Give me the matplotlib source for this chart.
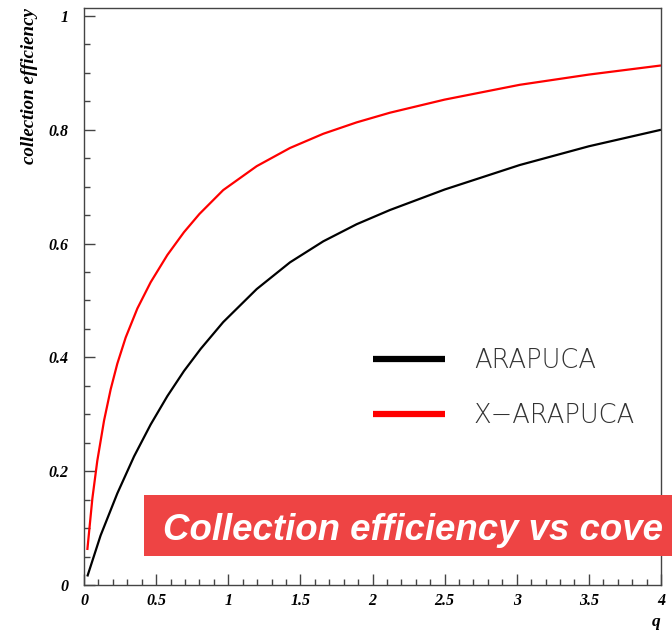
import matplotlib
matplotlib.use("Agg")
import matplotlib.pyplot as plt
from matplotlib.patches import Rectangle
from matplotlib.ticker import MultipleLocator

# ---- data ----
q_arapuca = [0.023, 0.115, 0.231, 0.347, 0.462, 0.578, 0.693, 0.809, 0.965, 1.197,
             1.428, 1.659, 1.890, 2.121, 2.5, 3.02, 3.5, 4.0]
eff_arapuca = [0.015, 0.087, 0.161, 0.226, 0.282, 0.332, 0.376, 0.415, 0.462, 0.520,
               0.567, 0.604, 0.634, 0.659, 0.695, 0.738, 0.771, 0.800]

q_xarapuca = [0.023, 0.058, 0.092, 0.139, 0.185, 0.231, 0.289, 0.370, 0.462, 0.578,
              0.693, 0.80, 0.965, 1.197, 1.428, 1.659, 1.890, 2.121, 2.5, 3.02, 3.5, 4.0]
eff_xarapuca = [0.0615, 0.152, 0.218, 0.289, 0.344, 0.389, 0.435, 0.486, 0.532, 0.580,
                0.620, 0.652, 0.694, 0.736, 0.768, 0.793, 0.813, 0.830, 0.853, 0.879, 0.897, 0.913]

series_labels = ["ARAPUCA", "X\u2212ARAPUCA"]
x_ticks = [0, 0.5, 1, 1.5, 2, 2.5, 3, 3.5, 4]
x_ticklabels = ["0", "0.5", "1", "1.5", "2", "2.5", "3", "3.5", "4"]
y_ticks = [0, 0.2, 0.4, 0.6, 0.8, 1.0]
y_ticklabels = ["0", "0.2", "0.4", "0.6", "0.8", "1"]
x_title = "q"
y_title = "collection efficiency"
banner_text = "Collection efficiency vs cove"

W, H = 672, 630
fig = plt.figure(figsize=(W / 100, H / 100), dpi=100)
ax = fig.add_axes([84 / W, 1 - 585 / H, (661 - 84) / W, (585 - 8) / H])

ax.plot(q_arapuca, eff_arapuca, color="black", lw=1.6, label=series_labels[0],
        solid_capstyle="butt", solid_joinstyle="round")
ax.plot(q_xarapuca, eff_xarapuca, color="#ff0000", lw=1.6, label=series_labels[1],
        solid_capstyle="butt", solid_joinstyle="round")

ax.set_xlim(0, 4)
ax.set_ylim(0, 1.014)

serif_bi = dict(family="Liberation Serif", weight="bold", style="italic")
ax.set_xticks(x_ticks)
ax.set_xticklabels(x_ticklabels, fontdict=dict(size=11.5, **serif_bi))
ax.set_yticks(y_ticks)
ax.set_yticklabels(y_ticklabels, fontdict=dict(size=11.5, **serif_bi))
ax.xaxis.set_minor_locator(MultipleLocator(0.1))
ax.yaxis.set_minor_locator(MultipleLocator(0.05))

spine_c = "#444444"
for s in ax.spines.values():
    s.set_color(spine_c)
    s.set_linewidth(1.0)
ax.tick_params(which="both", direction="in", color=spine_c, width=1.0,
               top=False, right=False)
ax.tick_params(which="major", length=8)
ax.tick_params(which="minor", length=4)
ax.tick_params(axis="y", which="major", pad=11)
ax.tick_params(axis="x", which="major", pad=6)

ax.set_ylabel(y_title, loc="top", fontsize=13.7, **serif_bi)
ax.yaxis.set_label_coords(-0.08, 1.0)
ax.set_xlabel(x_title, loc="right", fontsize=12.5, **serif_bi)
ax.xaxis.set_label_coords(1.0, -0.05)

leg = ax.legend(loc="upper left", bbox_to_anchor=(373 / W, 1 - 348 / H),
                bbox_transform=fig.transFigure, frameon=False,
                prop=dict(family="DejaVu Sans", weight="light", size=18.5),
                handlelength=2.8, handletextpad=1.13, labelspacing=1.17,
                borderpad=0, borderaxespad=0)
for ln in leg.get_lines():
    ln.set_linewidth(4.5)
for t in leg.get_texts():
    t.set_color("#333333")

# red banner overlay
rect = Rectangle((144 / W, 1 - 556 / H), 1 - 144 / W, (556 - 495) / H,
                 transform=fig.transFigure, facecolor="#ee4444", edgecolor="none", zorder=10)
fig.add_artist(rect)
fig.text(163 / W, 1 - 540 / H, banner_text, color="white", fontsize=26.4,
         family="Liberation Sans", weight="bold", style="italic",
         ha="left", va="baseline", zorder=11)

fig.savefig("out.png", dpi=100)
